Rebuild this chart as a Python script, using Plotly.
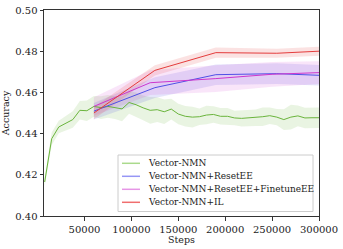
import plotly.graph_objects as go

# ---------------- data ----------------
green_steps = [7500 * (i + 1) for i in range(40)]
green_mean = [0.4165, 0.4375, 0.4432, 0.4450, 0.4468, 0.4513, 0.4511, 0.4532, 0.4526, 0.4532,
              0.4526, 0.4520, 0.4551, 0.4540, 0.4525, 0.4513, 0.4516, 0.4506, 0.4519, 0.4495,
              0.4484, 0.4480, 0.4482, 0.4490, 0.4493, 0.4484, 0.4484, 0.4476, 0.4474, 0.4477,
              0.4477, 0.4482, 0.4487, 0.4480, 0.4468, 0.4480, 0.4486, 0.4476, 0.4477, 0.4477]
green_std = [0.0020, 0.0030, 0.0030, 0.0035, 0.0040, 0.0045, 0.0050, 0.0050, 0.0055, 0.0055,
             0.0055, 0.0060, 0.0055, 0.0060, 0.0060, 0.0065, 0.0060, 0.0060, 0.0050, 0.0050,
             0.0050, 0.0050, 0.0040, 0.0045, 0.0040, 0.0040, 0.0040, 0.0035, 0.0040, 0.0040,
             0.0040, 0.0045, 0.0040, 0.0040, 0.0050, 0.0060, 0.0050, 0.0050, 0.0050, 0.0050]

reset_steps = [60000, 125000, 190000, 255000, 300000]
reset_mean = [0.4509, 0.4623, 0.4686, 0.4691, 0.4683]
reset_std = [0.0040, 0.0050, 0.0050, 0.0050, 0.0050]

finetune_steps = [60000, 120000, 190000, 250000, 300000]
finetune_mean = [0.4532, 0.4647, 0.4667, 0.4688, 0.4696]
finetune_std = [0.0045, 0.0060, 0.0065, 0.0060, 0.0055]

il_steps = [60000, 125000, 190000, 255000, 300000]
il_mean = [0.4500, 0.4707, 0.4793, 0.4790, 0.4800]
il_std = [0.0030, 0.0025, 0.0025, 0.0022, 0.0022]

y_ticks = [0.40, 0.42, 0.44, 0.46, 0.48, 0.50]
x_ticks = [50000, 100000, 150000, 200000, 250000, 300000]

series_names = ["Vector-NMN", "Vector-NMN+ResetEE",
                "Vector-NMN+ResetEE+FinetuneEE", "Vector-NMN+IL"]

series = [
    (series_names[0], green_steps, green_mean, green_std,
     "rgb(106,180,60)", "rgba(106,180,60,0.15)", "rgb(170,218,140)"),
    (series_names[1], reset_steps, reset_mean, reset_std,
     "rgb(80,80,230)", "rgba(80,80,230,0.15)", "rgb(150,150,245)"),
    (series_names[2], finetune_steps, finetune_mean, finetune_std,
     "rgb(205,55,205)", "rgba(205,55,205,0.13)", "rgb(230,150,230)"),
    (series_names[3], il_steps, il_mean, il_std,
     "rgb(228,60,60)", "rgba(228,60,60,0.15)", "rgb(240,110,110)"),
]

W, H = 343, 249
ML, MR, MT, MB = 44, 24, 10, 33
PW, PH = W - ML - MR, H - MT - MB


def px_x(p):
    return (p - ML) / PW


def px_y(p):
    return (H - MB - p) / PH


fig = go.Figure()
font_family = "DejaVu Serif"

for name, xs, m, s, lc, fc, legc in series:
    upper = [a + b for a, b in zip(m, s)]
    lower = [a - b for a, b in zip(m, s)]
    fig.add_trace(go.Scatter(x=xs + xs[::-1], y=upper + lower[::-1], fill="toself",
                             fillcolor=fc, line=dict(width=0), mode="lines",
                             hoverinfo="skip", showlegend=False))
for name, xs, m, s, lc, fc, legc in series:
    fig.add_trace(go.Scatter(x=xs, y=m, mode="lines", line=dict(color=lc, width=1),
                             name=name, showlegend=False))

# custom legend (matplotlib-like)
shapes = [dict(type="rect", xref="paper", yref="paper",
               x0=px_x(118), x1=px_x(313), y0=px_y(211.5), y1=px_y(155),
               line=dict(color="#cccccc", width=1), fillcolor="rgba(255,255,255,0.85)",
               layer="above")]
annotations = []
row_y = [163.3, 176.3, 189.3, 202.3]
for (name, xs, m, s, lc, fc, legc), ry in zip(series, row_y):
    shapes.append(dict(type="line", xref="paper", yref="paper",
                       x0=px_x(122), x1=px_x(140), y0=px_y(ry), y1=px_y(ry),
                       line=dict(color=legc, width=1.5), layer="above"))
    annotations.append(dict(text=name, xref="paper", yref="paper",
                            x=px_x(145.5), y=px_y(ry), xanchor="left", yanchor="middle",
                            showarrow=False,
                            font=dict(family=font_family, size=9, color="#222")))

axis_common = dict(showline=True, linecolor="#333", linewidth=1, mirror=True,
                   ticks="outside", ticklen=3.5, tickwidth=1, tickcolor="#333",
                   showgrid=False, zeroline=False, ticklabeloverflow="allow",
                   automargin=False,
                   tickfont=dict(family=font_family, size=10, color="#222"))

fig.update_layout(
    width=W, height=H,
    margin=dict(l=ML, r=MR, t=MT, b=MB),
    paper_bgcolor="white", plot_bgcolor="white",
    font=dict(family=font_family, color="#222"),
    xaxis=dict(range=[6800, 300000], tickvals=x_ticks,
               ticktext=[str(v) for v in x_ticks],
               title=dict(text="Steps", font=dict(family=font_family, size=9.5), standoff=1),
               **axis_common),
    yaxis=dict(range=[0.40, 0.50], tickvals=y_ticks,
               ticktext=["%.2f" % v for v in y_ticks],
               title=dict(text="Accuracy", font=dict(family=font_family, size=9.5), standoff=5),
               **axis_common),
    shapes=shapes,
    annotations=annotations,
    showlegend=False,
)

fig.write_html("out.html",
               config={"displayModeBar": False},
               post_script="document.body.style.margin='0';"
                           "document.body.style.overflow='hidden';")
